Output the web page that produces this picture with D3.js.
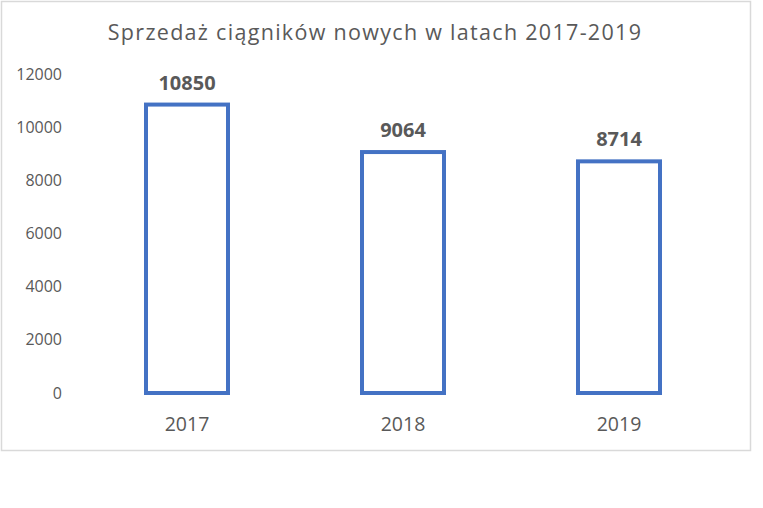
<!DOCTYPE html>
<html>
<head>
<meta charset="utf-8">
<script src="https://cdn.jsdelivr.net/npm/d3@7"></script>
<style>
  body { margin: 0; background: #fff; }
  text { font-family: "Open Sans", sans-serif; }
</style>
</head>
<body>
<svg id="chart" width="763" height="508"></svg>
<script>
var years = ["2017", "2018", "2019"];
var sales = [10850, 9064, 8714];
var ticks = [0, 2000, 4000, 6000, 8000, 10000, 12000];
var title = "Sprzedaż ciągników nowych w latach 2017-2019";

const svg = d3.select("#chart");

// chart frame
svg.append("rect")
  .attr("x", 1.5).attr("y", 1.5)
  .attr("width", 749).attr("height", 449)
  .attr("fill", "#fff")
  .attr("stroke", "#d9d9d9")
  .attr("stroke-width", 1.5);

svg.append("text")
  .attr("x", 375).attr("y", 40)
  .attr("text-anchor", "middle")
  .attr("fill", "#595959")
  .attr("font-size", 21.5)
  .attr("letter-spacing", 1.3)
  .text(title);

const x = d3.scaleBand()
  .domain(years)
  .range([79, 727])
  .paddingInner(0.6)
  .paddingOuter(0.3);

const y = d3.scaleLinear()
  .domain([0, 12000])
  .range([393, 74]);

const yAxis = svg.append("g")
  .attr("transform", "translate(62,0)")
  .call(d3.axisLeft(y).tickValues(ticks).tickSize(0).tickPadding(0).tickFormat(d3.format("d")));
yAxis.select(".domain").remove();
yAxis.selectAll("text")
  .attr("fill", "#595959")
  .attr("font-size", 16)
  .style("font-family", "'Open Sans', sans-serif");

const xAxis = svg.append("g")
  .attr("transform", "translate(0,393)")
  .call(d3.axisBottom(x).tickSize(0).tickPadding(24));
xAxis.select(".domain").remove();
xAxis.selectAll("text")
  .attr("fill", "#595959")
  .attr("font-size", 19.5)
  .style("font-family", "'Open Sans', sans-serif");

const bw = 82;
svg.append("g")
  .selectAll("rect")
  .data(years)
  .enter()
  .append("rect")
  .attr("x", (d, i) => x(d) + x.bandwidth() / 2 - bw / 2)
  .attr("y", (d, i) => y(sales[i]))
  .attr("width", bw)
  .attr("height", (d, i) => y(0) - y(sales[i]))
  .attr("fill", "#fff")
  .attr("stroke", "#4472c4")
  .attr("stroke-width", 4);

svg.append("g")
  .selectAll("text")
  .data(years)
  .enter()
  .append("text")
  .attr("x", d => x(d) + x.bandwidth() / 2)
  .attr("y", (d, i) => y(sales[i]) - 15)
  .attr("text-anchor", "middle")
  .attr("fill", "#595959")
  .attr("font-size", 20)
  .attr("font-weight", "bold")
  .text((d, i) => sales[i]);
</script>
</body>
</html>
